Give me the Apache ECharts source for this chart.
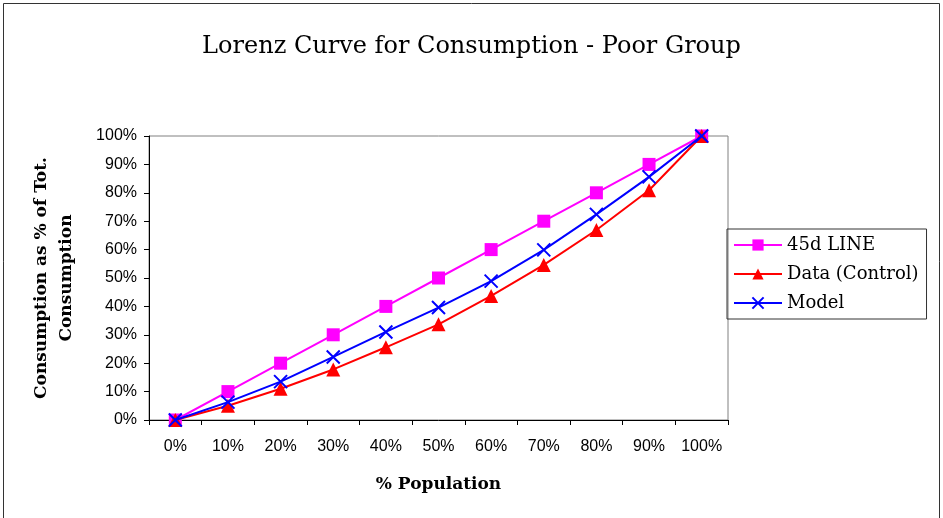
<!DOCTYPE html>
<html>
<head>
<meta charset="utf-8">
<script src="https://cdn.jsdelivr.net/npm/echarts@6/dist/echarts.min.js"></script>
<style>
  html, body { margin: 0; padding: 0; background: #fff; }
  #main { width: 943px; height: 518px; }
</style>
</head>
<body>
<div id="main"></div>
<script>
// 洛伦兹曲线数据
var categories = ['0%', '10%', '20%', '30%', '40%', '50%', '60%', '70%', '80%', '90%', '100%'];
var lineEqual = [0, 10, 20, 30, 40, 50, 60, 70, 80, 90, 100];
var dataControl = [0, 5, 11, 17.8, 25.6, 33.7, 43.7, 54.6, 66.9, 80.9, 100];
var dataModel = [0, 6.3, 13.5, 22.2, 31, 39.6, 48.9, 59.9, 72.4, 85.6, 100];

var serif = "'DejaVu Serif', 'Liberation Serif', serif";
var sans = "'Liberation Sans', Arial, sans-serif";

var myChart = echarts.init(document.getElementById('main'));

var option = {
    animation: false,
    backgroundColor: '#fff',
    graphic: [
        {
            type: 'rect',
            shape: { x: 3.5, y: 3.5, width: 936, height: 530 },
            style: { fill: 'none', stroke: '#333', lineWidth: 1 },
            silent: true
        }
    ],
    title: {
        text: 'Lorenz Curve for Consumption - Poor Group',
        left: 'center',
        top: 30,
        textStyle: {
            fontFamily: serif,
            fontWeight: 'normal',
            fontSize: 24,
            color: '#000'
        }
    },
    legend: {
        orient: 'vertical',
        left: 727,
        top: 229,
        itemWidth: 48,
        itemHeight: 14,
        itemGap: 11,
        padding: [7, 8, 7, 6],
        borderColor: '#333',
        borderWidth: 1,
        textStyle: {
            fontFamily: serif,
            fontSize: 18,
            color: '#000'
        },
        data: ['45d LINE', 'Data (Control)', 'Model']
    },
    grid: {
        left: 149,
        right: 215,
        top: 136,
        bottom: 98,
        show: true,
        borderColor: '#808080',
        borderWidth: 1
    },
    xAxis: {
        type: 'category',
        data: categories,
        boundaryGap: true,
        name: '% Population',
        nameLocation: 'middle',
        nameGap: 56,
        nameTextStyle: {
            fontFamily: serif,
            fontWeight: 'bold',
            fontSize: 17,
            color: '#000'
        },
        axisLine: { lineStyle: { color: '#000', width: 1 } },
        axisTick: { show: true, interval: 0, inside: false, length: 5, alignWithLabel: false, lineStyle: { color: '#000' } },
        axisLabel: {
            interval: 0,
            hideOverlap: false,
            margin: 19,
            fontFamily: sans,
            fontSize: 16,
            color: '#000'
        },
        splitLine: { show: false }
    },
    yAxis: {
        type: 'value',
        min: 0,
        max: 100,
        interval: 10,
        name: 'Consumption as % of Tot.\nConsumption',
        nameLocation: 'middle',
        nameGap: 70,
        nameRotate: 90,
        nameTextStyle: {
            fontFamily: serif,
            fontWeight: 'bold',
            fontSize: 17,
            lineHeight: 25,
            color: '#000'
        },
        axisLine: { show: true, lineStyle: { color: '#000', width: 1 } },
        axisTick: { show: true, length: 5, lineStyle: { color: '#000' } },
        axisLabel: {
            margin: 12,
            fontFamily: sans,
            fontSize: 16,
            color: '#000',
            formatter: '{value}%'
        },
        splitLine: { show: false }
    },
    series: [
        {
            name: '45d LINE',
            type: 'line',
            data: lineEqual,
            symbol: 'rect',
            symbolSize: 13,
            lineStyle: { color: '#ff00ff', width: 2 },
            itemStyle: { color: '#ff00ff' },
            z: 2
        },
        {
            name: 'Data (Control)',
            type: 'line',
            data: dataControl,
            symbol: 'triangle',
            symbolSize: 14,
            lineStyle: { color: '#ff0000', width: 2 },
            itemStyle: { color: '#ff0000' },
            z: 3
        },
        {
            name: 'Model',
            type: 'line',
            data: dataModel,
            symbol: 'path://M0,0L10,10M10,0L0,10',
            symbolSize: 13,
            lineStyle: { color: '#0000ff', width: 2 },
            itemStyle: { color: 'rgba(0,0,0,0)', borderColor: '#0000ff', borderWidth: 2 },
            z: 4
        }
    ]
};

myChart.setOption(option);
</script>
</body>
</html>
